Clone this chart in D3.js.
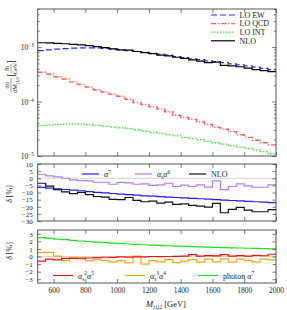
<!DOCTYPE html>
<html>
<head>
<meta charset="utf-8">
<script src="https://cdn.jsdelivr.net/npm/d3@7"></script>
<style>
  body { margin: 0; background: #fff; }
  svg text { font-family: "Liberation Serif", "DejaVu Serif", serif; fill: #222; }
  .frame { fill: none; stroke: #444; stroke-width: 0.9; }
  .axis path { display: none; }
  .axis line { stroke: #444; stroke-width: 0.7; }
  .axis text { font-size: 7.5px; }
  .axis.small text { font-size: 7px; }
</style>
</head>
<body>
<script>
// ---------------- data (50 GeV bins, 500 - 2000 GeV) ----------------
const massEdges = d3.range(500, 2050, 50);

const loEW = [8.6e-4, 8.9e-4, 9.2e-4, 9.4e-4, 9.6e-4, 9.7e-4, 9.7e-4, 9.7e-4, 9.5e-4, 9.2e-4,
  8.9e-4, 8.6e-4, 8.3e-4, 8.0e-4, 7.7e-4, 7.4e-4, 7.1e-4, 6.7e-4, 6.4e-4, 6.1e-4,
  5.9e-4, 5.6e-4, 5.4e-4, 5.2e-4, 4.9e-4, 4.7e-4, 4.5e-4, 4.3e-4, 4.05e-4, 3.85e-4];
const loQCD = [3.45e-4, 3.2e-4, 2.85e-4, 2.6e-4, 2.3e-4, 2.05e-4, 1.85e-4, 1.65e-4, 1.5e-4, 1.36e-4,
  1.25e-4, 1.1e-4, 9.6e-5, 8.8e-5, 8.0e-5, 7.3e-5, 6.5e-5, 5.6e-5, 5.1e-5, 4.7e-5,
  4.2e-5, 3.8e-5, 3.35e-5, 3.1e-5, 2.8e-5, 2.45e-5, 2.2e-5, 1.95e-5, 1.75e-5, 1.6e-5];
const loINT = [3.6e-5, 3.7e-5, 3.8e-5, 3.9e-5, 3.9e-5, 3.85e-5, 3.75e-5, 3.65e-5, 3.5e-5, 3.4e-5,
  3.3e-5, 3.2e-5, 3.0e-5, 2.85e-5, 2.7e-5, 2.6e-5, 2.45e-5, 2.35e-5, 2.2e-5, 2.1e-5,
  2.0e-5, 1.85e-5, 1.75e-5, 1.65e-5, 1.55e-5, 1.45e-5, 1.38e-5, 1.3e-5, 1.2e-5, 1.1e-5];
const nlo = [1.2e-3, 1.19e-3, 1.17e-3, 1.15e-3, 1.12e-3, 1.1e-3, 1.06e-3, 1.02e-3, 9.8e-4, 9.3e-4,
  8.9e-4, 8.8e-4, 8.3e-4, 7.9e-4, 7.6e-4, 7.1e-4, 6.9e-4, 6.5e-4, 6.2e-4, 5.8e-4,
  5.5e-4, 5.2e-4, 5.3e-4, 4.6e-4, 4.5e-4, 4.35e-4, 4.1e-4, 3.85e-4, 3.7e-4, 3.55e-4];

// relative corrections [%]
const dAlpha7 = [-6.4, -6.9, -7.4, -7.9, -8.4, -8.9, -9.4, -9.9, -10.3, -10.7,
  -11.1, -11.5, -11.9, -12.3, -12.6, -12.9, -13.2, -13.5, -13.8, -14.1,
  -14.4, -14.7, -15.0, -15.3, -15.6, -15.9, -16.2, -16.5, -16.8, -17.1];
const dAsAlpha6 = [2.8, 1.6, 0.9, 0.0, -1.2, -1.6, -1.8, -2.8, -2.8, -4.2,
  -2.9, -3.3, -4.2, -4.0, -5.0, -4.7, -3.5, -5.8, -4.8, -5.8,
  -4.7, -6.2, -1.8, -8.0, -5.8, -4.0, -5.4, -6.3, -6.3, -4.7];
const dNLO = [-3.5, -5.5, -8.0, -9.5, -10.8, -10.0, -11.5, -12.8, -13.3, -14.8,
  -15.0, -13.5, -15.5, -16.5, -16.0, -17.5, -16.8, -18.3, -18.0, -19.0,
  -19.5, -20.3, -17.6, -24.2, -21.8, -20.4, -22.3, -23.5, -23.5, -22.0];

const dAs2Alpha5 = [-0.6, -0.35, -0.45, -0.25, -0.25, -0.3, -0.2, -0.15, -0.1, -0.12,
  -0.05, -0.08, -0.05, -0.05, 0.0, -0.02, 0.0, 0.02, 0.05, 0.25,
  0.05, 0.12, 0.08, 0.25, 0.05, 0.12, 0.05, 0.15, 0.1, 0.3];
const dAs3Alpha4 = [0.55, 0.55, 0.05, -0.55, -0.1, -0.15, -0.55, -0.4, -0.55, -0.75,
  -0.55, -0.85, 0.05, -1.0, -0.55, -0.7, -0.4, -0.8, -0.6, -0.4,
  -0.75, -0.35, -0.7, -0.3, -0.75, -0.35, -0.55, -0.7, -0.35, -0.45];
const dPhoton = [2.5, 2.4, 2.3, 2.22, 2.13, 2.05, 1.98, 1.9, 1.83, 1.77,
  1.71, 1.65, 1.6, 1.55, 1.5, 1.46, 1.42, 1.38, 1.34, 1.3,
  1.27, 1.24, 1.21, 1.18, 1.15, 1.12, 1.09, 1.06, 1.03, 1.0];

const xTicks = [600, 800, 1000, 1200, 1400, 1600, 1800, 2000];
const midTicks = [10, 5, 0, -5, -10, -15, -20, -25, -30];
const lowTicks = [3, 2, 1, 0, -1, -2, -3];

// ---------------- layout ----------------
const W = 287, H = 310;
const left = 37.7, right = 276;
const panels = {
  main: { top: 9, bottom: 156 },
  mid: { top: 164, bottom: 221 },
  low: { top: 230, bottom: 283 }
};

const svg = d3.select("body").append("svg").attr("width", W).attr("height", H);

const x = d3.scaleLinear().domain([500, 2000]).range([left, right]);
const yMain = d3.scaleLog().domain([1e-5, 5e-3]).range([panels.main.bottom, panels.main.top]);
const yMid = d3.scaleLinear().domain([-30, 10]).range([panels.mid.bottom, panels.mid.top]);
const yLow = d3.scaleLinear().domain([-3.5, 3.5]).range([panels.low.bottom, panels.low.top]);

// step histogram from bin values
function stepPath(values, yScale) {
  const pts = values.map((v, i) => [massEdges[i], v]);
  pts.push([massEdges[values.length], values[values.length - 1]]);
  return d3.line().x(d => x(d[0])).y(d => yScale(d[1])).curve(d3.curveStepAfter)(pts);
}

function drawSeries(values, yScale, color, width, dash) {
  svg.append("path")
    .attr("d", stepPath(values, yScale))
    .attr("fill", "none")
    .attr("stroke", color)
    .attr("stroke-width", width)
    .attr("stroke-dasharray", dash || null);
}

function xAxes(p, withLabels) {
  svg.append("g").attr("class", "axis")
    .attr("transform", `translate(0,${p.bottom})`)
    .call(d3.axisBottom(x).tickValues(xTicks).tickSize(-4).tickPadding(withLabels ? 5 : 0)
      .tickFormat(withLabels ? d3.format("d") : ""));
  svg.append("g").attr("class", "axis")
    .attr("transform", `translate(0,${p.top})`)
    .call(d3.axisTop(x).tickValues(xTicks).tickSize(-4).tickFormat(""));
}

function yAxesLinear(yScale, ticks) {
  svg.append("g").attr("class", "axis small")
    .attr("transform", `translate(${left},0)`)
    .call(d3.axisLeft(yScale).tickValues(ticks).tickSize(-3.5).tickPadding(5).tickFormat(d3.format("d")));
  svg.append("g").attr("class", "axis")
    .attr("transform", `translate(${right},0)`)
    .call(d3.axisRight(yScale).tickValues(ticks).tickSize(-3.5).tickFormat(""));
}

function frame(p) {
  svg.append("rect").attr("class", "frame")
    .attr("x", left).attr("y", p.top)
    .attr("width", right - left).attr("height", p.bottom - p.top);
}

// text with sub/superscripts: parts = [[text, "sub"|"sup"|null, italic]]
function mathText(g, xPos, yPos, parts, size, anchor) {
  const t = g.append("text").attr("x", xPos).attr("y", yPos)
    .attr("font-size", size).attr("text-anchor", anchor || "start");
  let shift = 0;
  parts.forEach(([txt, kind, italic]) => {
    const target = kind === "sub" ? size * 0.3 : kind === "sup" ? -size * 0.4 : 0;
    const s = t.append("tspan").text(txt).attr("dy", target - shift);
    if (kind) s.attr("font-size", size * 0.68);
    if (italic) s.attr("font-style", "italic");
    shift = target;
  });
  return t;
}

// ---------------- main panel ----------------
const pm = panels.main;
drawSeries(loINT, yMain, "#33dd33", 1.3, "1.4,1.6");
drawSeries(loQCD, yMain, "#ff5a5a", 1.4, "5,2,1.2,2");
drawSeries(loEW, yMain, "#2a2aee", 1.2, "6,3");
drawSeries(nlo, yMain, "#000", 1.2);

const majors = [1e-5, 1e-4, 1e-3];
const minors = [];
[1e-5, 1e-4, 1e-3].forEach(d => d3.range(2, 10).forEach(k => { if (d * k <= 5e-3) minors.push(d * k); }));

svg.append("g").attr("class", "axis").attr("transform", `translate(${left},0)`)
  .call(d3.axisLeft(yMain).tickValues(minors).tickSize(-2).tickFormat(""));
svg.append("g").attr("class", "axis").attr("transform", `translate(${right},0)`)
  .call(d3.axisRight(yMain).tickValues(minors).tickSize(-2).tickFormat(""));
svg.append("g").attr("class", "axis").attr("transform", `translate(${right},0)`)
  .call(d3.axisRight(yMain).tickValues(majors).tickSize(-4).tickFormat(""));
svg.append("g").attr("class", "axis").attr("transform", `translate(${left},0)`)
  .call(d3.axisLeft(yMain).tickValues(majors).tickSize(-4).tickFormat(""));
majors.forEach(v => {
  mathText(svg, left - 4, yMain(v) + 3, [["10", null], ["−" + Math.round(-Math.log10(v)), "sup"]], 7.5, "end");
});
xAxes(pm, false);
frame(pm);

// main legend
const legMain = [
  ["LO EW", "#2a2aee", 1.2, "6,3"],
  ["LO QCD", "#ff5a5a", 1.4, "5,2,1.2,2"],
  ["LO INT", "#33dd33", 1.3, "1.4,1.6"],
  ["NLO", "#000", 1.2, null]
];
legMain.forEach((d, i) => {
  const yy = 15 + i * 8.6;
  svg.append("line").attr("x1", 211).attr("x2", 235).attr("y1", yy).attr("y2", yy)
    .attr("stroke", d[1]).attr("stroke-width", d[2]).attr("stroke-dasharray", d[3]);
  svg.append("text").attr("x", 239.5).attr("y", yy + 2.8).attr("font-size", 8).text(d[0]);
});

// main y label (rotated fraction)
const yl = svg.append("g").attr("transform", "translate(11,76) rotate(-90)");
yl.append("text").attr("x", -9).attr("y", -2).attr("font-size", 6.5).attr("text-anchor", "middle")
  .append("tspan").text("dσ");
yl.append("line").attr("x1", -16).attr("x2", -2).attr("y1", 0).attr("y2", 0).attr("stroke", "#222").attr("stroke-width", 0.45);
mathText(yl, -9, 6, [["dM", null, false], ["j1j2", "sub", true]], 6.5, "middle");
yl.append("text").attr("x", -0.5).attr("y", 3).attr("font-size", 10).text("[");
yl.append("text").attr("x", 7.5).attr("y", -1.8).attr("font-size", 6).attr("text-anchor", "middle").text("fb");
yl.append("line").attr("x1", 3).attr("x2", 12).attr("y1", 0).attr("y2", 0).attr("stroke", "#222").attr("stroke-width", 0.45);
yl.append("text").attr("x", 7.5).attr("y", 5.6).attr("font-size", 6).attr("text-anchor", "middle").text("GeV");
yl.append("text").attr("x", 12.5).attr("y", 3).attr("font-size", 10).text("]");

// ---------------- middle panel ----------------
const pmid = panels.mid;
svg.append("line").attr("x1", left).attr("x2", right).attr("y1", yMid(0)).attr("y2", yMid(0))
  .attr("stroke", "#c8c8c8").attr("stroke-width", 0.8);
drawSeries(dAsAlpha6, yMid, "#b57cf0", 1.2);
drawSeries(dAlpha7, yMid, "#2020ee", 1.2);
drawSeries(dNLO, yMid, "#111", 1.2);
yAxesLinear(yMid, midTicks);
xAxes(pmid, false);
frame(pmid);

const legMid = [
  { x1: 82, color: "#2020ee", parts: [["α", null, true], ["7", "sup"]] },
  { x1: 135, color: "#b57cf0", parts: [["α", null, true], ["s", "sub"], ["α", null, true], ["6", "sup"]] },
  { x1: 189, color: "#111", parts: [["NLO", null]] }
];
legMid.forEach(d => {
  svg.append("line").attr("x1", d.x1).attr("x2", d.x1 + 17).attr("y1", 174).attr("y2", 174)
    .attr("stroke", d.color).attr("stroke-width", 1.2);
  mathText(svg, d.x1 + 22, 177, d.parts, 8);
});
mathText(svg, 12, 194, [["δ", null, true], [" [%]", null]], 8, "middle")
  .attr("transform", "rotate(-90,12,194)");

// ---------------- lower panel ----------------
const plow = panels.low;
svg.append("line").attr("x1", left).attr("x2", right).attr("y1", yLow(0)).attr("y2", yLow(0))
  .attr("stroke", "#c8c8c8").attr("stroke-width", 0.8);
drawSeries(dPhoton, yLow, "#22e022", 1.2);
drawSeries(dAs3Alpha4, yLow, "#ffa510", 1.2);
drawSeries(dAs2Alpha5, yLow, "#ee1111", 1.2);
yAxesLinear(yLow, lowTicks);
xAxes(plow, true);
frame(plow);

const legLow = [
  { x1: 53, color: "#ee1111", parts: [["α", null, true], ["s", "sub"], ["2", "sup"], ["α", null, true], ["5", "sup"]] },
  { x1: 125, color: "#ffa510", parts: [["α", null, true], ["s", "sub"], ["3", "sup"], ["α", null, true], ["4", "sup"]] },
  { x1: 198, color: "#22e022", parts: [["photon ", null], ["α", null, true], ["7", "sup"]] }
];
legLow.forEach(d => {
  svg.append("line").attr("x1", d.x1).attr("x2", d.x1 + 20).attr("y1", 275.5).attr("y2", 275.5)
    .attr("stroke", d.color).attr("stroke-width", 1.2);
  mathText(svg, d.x1 + 25, 278.5, d.parts, 8);
});
mathText(svg, 12, 251, [["δ", null, true], [" [%]", null]], 8, "middle")
  .attr("transform", "rotate(-90,12,251)");

// x label
mathText(svg, 166, 306.5, [["M", null, true], ["j1j2", "sub", true], [" [GeV]", null]], 8.5, "middle");
</script>
</body>
</html>
